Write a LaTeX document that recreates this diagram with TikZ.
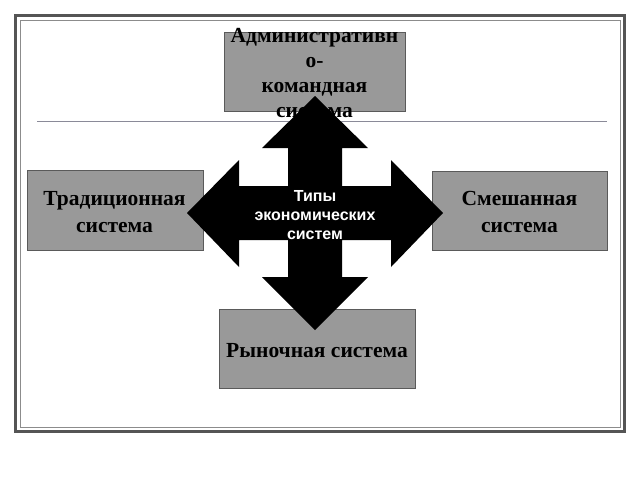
\documentclass[tikz,border=0pt]{standalone}
\usepackage{fontspec}
\usetikzlibrary{calc}
\setmainfont{Liberation Serif}
\newfontfamily\arialbf{Liberation Sans}[BoldFont={* Bold}]
\definecolor{boxgray}{HTML}{999999}
\definecolor{boxedge}{HTML}{5A5A5A}
\definecolor{framedark}{HTML}{555555}
\definecolor{framelight}{HTML}{8C8C8C}
\definecolor{rulecol}{HTML}{8A8A98}
\tikzset{
  box/.style={draw=boxedge, fill=boxgray, line width=0.9pt, rectangle, inner sep=0pt},
  boxtext/.style={font=\fontsize{21.5}{25}\selectfont\bfseries, align=center, text=black, inner sep=0pt},
  sidetext/.style={boxtext, font=\fontsize{21.5}{27.5}\selectfont\bfseries},
  crosstext/.style={font=\arialbf\fontsize{16}{19}\selectfont\bfseries, align=center, text=white, inner sep=0pt},
}
\begin{document}
\begin{tikzpicture}[x=1pt,y=-1pt]
\useasboundingbox (0,0) rectangle (640,480);
\fill[white] (0,0) rectangle (640,480);
% frame
\draw[framedark, line width=3pt] (15.5,15.5) rectangle (624.5,431.5);
\draw[framelight, line width=1pt] (20,20) rectangle (620,427);
% rule
\draw[rulecol, line width=0.8pt] (37,121) -- (607,121);
% boxes
\node[box, minimum width=181pt, minimum height=79pt] (adm) at (314.5,71.5) {};
\node[box, minimum width=176pt, minimum height=80pt] (trad) at (115,210) {};
\node[box, minimum width=175pt, minimum height=79pt] (mix) at (519.5,210.5) {};
\node[box, minimum width=196pt, minimum height=79pt] (mkt) at (317,348.5) {};
% texts
\node[boxtext, anchor=north] (admt) at (314.5,28.5) {Административн\\о-\\командная\\система};
\node[sidetext] (tradt) at (114.5,212) {Традиционная\\система};
\node[sidetext] (mixt) at (519.5,212) {Смешанная\\система};
\node[boxtext] (mktt) at (317,351) {Рыночная система};
% cross arrow
\coordinate (c) at (315,213);
\fill[black] ($(c)+(0,-117)$) -- ++(53,52) -- ++(-26,0) -- ++(0,38) -- ++(49,0) -- ++(0,-26) -- ++(52,53) -- ++(-52,54) -- ++(0,-27) -- ++(-49,0) -- ++(0,37) -- ++(26,0) -- ++(-53,53) -- ++(-53,-53) -- ++(26,0) -- ++(0,-37) -- ++(-49,0) -- ++(0,27) -- ++(-52,-54) -- ++(52,-53) -- ++(0,26) -- ++(49,0) -- ++(0,-38) -- ++(-26,0) -- cycle;
\node[crosstext] (ct) at ($(c)+(0,2.5)$) {Типы\\экономических\\систем};
\end{tikzpicture}
\end{document}
